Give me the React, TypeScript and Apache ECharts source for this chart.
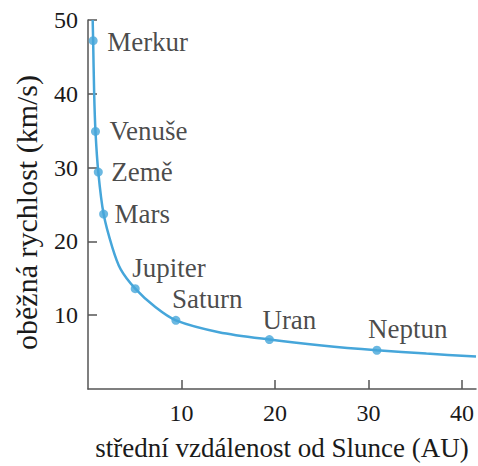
import React, { useEffect, useRef } from "react";
import * as echarts from "echarts";

// Planets: mean distance from Sun (AU) and orbital speed (km/s)
const planetNames = ["Merkur", "Venuše", "Země", "Mars", "Jupiter", "Saturn", "Uran", "Neptun"];
const planetDist = [0.55, 0.8, 1.1, 1.67, 5.05, 9.4, 19.4, 30.9];
const planetSpeed = [47.2, 34.9, 29.4, 23.7, 13.6, 9.3, 6.7, 5.25];

// Curve
const curveX = [0.5, 0.55, 0.66, 0.8, 1.1, 1.67, 2.6, 3.5, 5.05, 7.2, 9.4, 14.0, 19.4, 25.0, 30.9, 36.2, 41.5];
const curveY = [50, 47.2, 40, 34.9, 29.4, 23.7, 19.2, 16.2, 13.6, 11.1, 9.3, 7.7, 6.7, 5.9, 5.25, 4.8, 4.4];

const xTicks = [10, 20, 30, 40];
const yTicks = [10, 20, 30, 40, 50];

const xTitle = "střední vzdálenost od Slunce (AU)";
const yTitle = "oběžná rychlost (km/s)";

// label placement (styles, not data)
const labelOffsets: Record<string, [number, number]> = {
  Merkur: [14, 1],
  "Venuše": [14, 0],
  "Země": [13, 0],
  Mars: [11, 0],
  Jupiter: [-3, -21],
  Saturn: [-4, -21],
  Uran: [-7, -20],
  Neptun: [-9, -21],
};

const FONT = "'Liberation Serif', 'DejaVu Serif', serif";
const BLUE = "#46a6da";
const AXIS = "#555555";

export default function App() {
  const ref = useRef<HTMLDivElement>(null);
  useEffect(() => {
    if (!ref.current) return;
    const chart = echarts.init(ref.current, undefined, { renderer: "svg" });
    const curve = curveX.map((x, i) => [x, curveY[i]]);
    const planets = planetNames.map((n, i) => ({
      name: n,
      value: [planetDist[i], planetSpeed[i]],
      label: {
        show: true,
        position: "inside",
        align: "left",
        verticalAlign: "middle",
        offset: labelOffsets[n],
        formatter: n,
        color: "#1a1a1a",
        fontFamily: FONT,
        fontSize: 27,
      },
    }));
    chart.setOption({
      animation: false,
      backgroundColor: "#ffffff",
      grid: { left: 88, right: 2, top: 20, bottom: 74, containLabel: false },
      xAxis: {
        type: "value",
        min: 0,
        max: 41.5,
        interval: 10,
        name: xTitle,
        nameLocation: "middle",
        nameGap: 45,
        nameTextStyle: { fontFamily: FONT, fontSize: 27, color: "#1a1a1a" },
        axisLine: { show: true, lineStyle: { color: AXIS, width: 1.5 } },
        axisTick: { show: true, inside: true, length: 9, customValues: xTicks, lineStyle: { color: AXIS, width: 1.5 } },
        axisLabel: { customValues: xTicks, margin: 12, fontFamily: FONT, fontSize: 24, color: "#1a1a1a" },
        splitLine: { show: false },
      },
      yAxis: {
        type: "value",
        min: 0,
        max: 50,
        interval: 10,
        name: yTitle,
        nameLocation: "middle",
        nameGap: 47,
        nameRotate: 90,
        nameTextStyle: { fontFamily: FONT, fontSize: 30, color: "#1a1a1a", padding: [0, 16, 0, 0] },
        axisLine: { show: true, lineStyle: { color: AXIS, width: 1.5 } },
        axisTick: { show: true, inside: true, length: 9, customValues: yTicks, lineStyle: { color: AXIS, width: 1.5 } },
        axisLabel: { customValues: yTicks, margin: 10, fontFamily: FONT, fontSize: 24, color: "#1a1a1a" },
        splitLine: { show: false },
      },
      series: [
        {
          type: "line",
          data: curve,
          smooth: 0.3,
          showSymbol: false,
          lineStyle: { color: BLUE, width: 2.5 },
          silent: true,
        },
        {
          type: "scatter",
          data: planets,
          symbol: "circle",
          symbolSize: 9,
          itemStyle: { color: BLUE },
        },
      ],
    });
    return () => chart.dispose();
  }, []);
  return <div ref={ref} style={{ position: "fixed", left: 0, top: 0, width: 478, height: 466 }} />;
}
